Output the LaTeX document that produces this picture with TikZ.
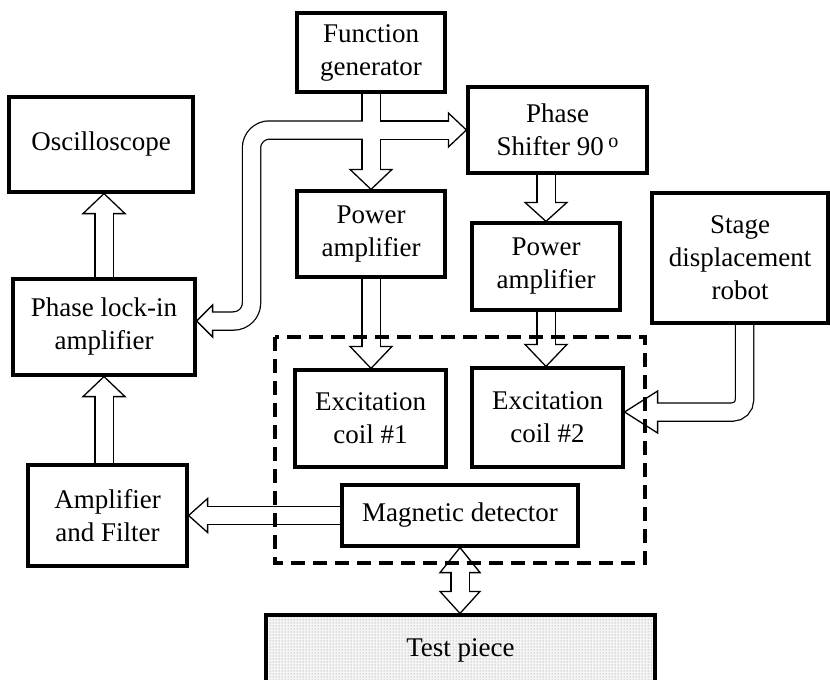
\documentclass[tikz,border=0pt]{standalone}
\usepackage{fontspec}
\setmainfont{Liberation Serif}
\usetikzlibrary{calc,patterns}
\pgfdeclarelayer{pipes}
\pgfsetlayers{pipes,main}

% hollow arrow heads: #1 tip, #2 length, #3 half width
\newcommand\tipdown[3]{\draw[headst] (#1) -- ++(-#3,-#2) -- ++(2*#3,0) -- cycle;}
\newcommand\tipup[3]{\draw[headst] (#1) -- ++(-#3,#2) -- ++(2*#3,0) -- cycle;}
\newcommand\tipright[3]{\draw[headst] (#1) -- ++(-#2,-#3) -- ++(0,2*#3) -- cycle;}
\newcommand\tipleft[3]{\draw[headst] (#1) -- ++(#2,-#3) -- ++(0,2*#3) -- cycle;}

% all hollow pipe shafts, drawn once in black and once in white
\newcommand\pipeset[1]{%
  \draw[#1] (fg.south) -- (b1);
  \draw[#1] (jn) -- (b2);
  \draw[#1, rounded corners=18pt] (jn) -- (lu) -- (ld) -- (b3);
  \draw[#1] (pa2.north |- ps.south) -- (b4);
  \draw[#1] (pa1.south) -- (b5);
  \draw[#1] (pa2.south) -- (b6);
  \draw[#1, rounded corners=12pt] (st.south -| sbend) -- (sbend) -- (b7);
  \draw[#1] (li.north) -- (b8);
  \draw[#1] (li.south |- amp.north) -- (b9);
  \draw[#1] (det.west) -- (b10);
  \draw[#1] (b11) -- (b12);
}

\begin{document}
\begin{tikzpicture}[x=1pt,y=-1pt,
  box/.style={draw, line width=3.2pt, fill=white, align=center, inner sep=0pt,
    font=\fontsize{27}{33}\selectfont},
  pipeout/.style={draw=black, line width=19.5pt},
  pipein/.style={draw=white, line width=17pt, shorten >=-1.5pt, shorten <=-1.5pt},
  headst/.style={draw=black, fill=white, line width=1.3pt, line join=miter},
  dashbox/.style={draw=black, line width=3.2pt, dash pattern=on 14pt off 8pt}]

\useasboundingbox (0,0) rectangle (830,680);

% blocks
\node[box, minimum width=148pt, minimum height=79pt] (fg) at (371,52.5) {Function\\generator};
\node[box, minimum width=179pt, minimum height=86pt] (ps) at (557.5,130)
  {Phase\\Shifter 90\,\raisebox{8pt}{\fontsize{20}{20}\selectfont o}};
\node[box, minimum width=184pt, minimum height=95pt] (osc) at (101,144.5) {Oscilloscope};
\node[box, minimum width=182pt, minimum height=96pt] (li) at (104,327) {Phase lock-in\\amplifier};
\node[box, minimum width=159pt, minimum height=101pt] (amp) at (107.5,515.5) {Amplifier\\and Filter};
\node[box, minimum width=148pt, minimum height=86pt] (pa1) at (371,234) {Power\\amplifier};
\node[box, minimum width=148pt, minimum height=87pt] (pa2) at (546,266.5) {Power\\amplifier};
\node[box, minimum width=176pt, minimum height=130pt] (st) at (740,258) {Stage\\displacement\\robot};
\node[box, minimum width=151pt, minimum height=97pt] (c1) at (370.5,418.5) {Excitation\\coil \#1};
\node[box, minimum width=151pt, minimum height=99pt] (c2) at (547.5,417.5) {Excitation\\coil \#2};
\node[box, minimum width=236pt, minimum height=61pt] (det) at (460,515.5) {Magnetic detector};
\node[box, minimum width=389pt, minimum height=70pt, pattern=dots, pattern color=gray,
  preaction={fill=gray!8}] (test) at (460.5,650) {Test piece};

% arrow tips and the bases of their heads
\coordinate (t1) at (pa1.north);              \coordinate (b1) at ($(t1)+(0,-20)$);
\coordinate (t2) at (ps.west);                \coordinate (b2) at ($(t2)+(-18,0)$);
\coordinate (t3) at ($(li.east)+(0,-6)$);     \coordinate (b3) at ($(t3)+(16,0)$);
\coordinate (t4) at (pa2.north);              \coordinate (b4) at ($(t4)+(0,-19)$);
\coordinate (t5) at (pa1.south |- c1.north);  \coordinate (b5) at ($(t5)+(0,-22)$);
\coordinate (t6) at (pa2.south |- c2.north);  \coordinate (b6) at ($(t6)+(0,-22)$);
\coordinate (t7) at ($(c2.east)+(0,-5.5)$);   \coordinate (b7) at ($(t7)+(33,0)$);
\coordinate (t8) at (li.north |- osc.south);  \coordinate (b8) at ($(t8)+(0,20)$);
\coordinate (t9) at (li.south);               \coordinate (b9) at ($(t9)+(0,20)$);
\coordinate (t10) at (det.west -| amp.east);  \coordinate (b10) at ($(t10)+(19,0)$);
\coordinate (t11) at (det.south);             \coordinate (b11) at ($(t11)+(0,25)$);
\coordinate (t12) at (det.south |- test.north); \coordinate (b12) at ($(t12)+(0,-22)$);
% bends
\coordinate (jn) at (fg.south |- t2);
\coordinate (lu) at (251.5,130);
\coordinate (ld) at (lu |- t3);
\coordinate (sbend) at (744.5,412);

\begin{pgfonlayer}{pipes}
  \pipeset{pipeout}
  \tipdown{t1}{20}{21}
  \tipright{t2}{18}{17}
  \tipleft{t3}{16}{16}
  \tipdown{t4}{19}{21}
  \tipdown{t5}{22}{21}
  \tipdown{t6}{22}{21}
  \tipleft{t7}{33}{21}
  \tipup{t8}{20}{21}
  \tipup{t9}{20}{21}
  \tipleft{t10}{19}{17}
  \tipup{t11}{25}{20}
  \tipdown{t12}{22}{20}
  \pipeset{pipein}
\end{pgfonlayer}

% sensor head enclosure
\draw[dashbox] (275,337) rectangle (645,563);
\end{tikzpicture}
\end{document}
